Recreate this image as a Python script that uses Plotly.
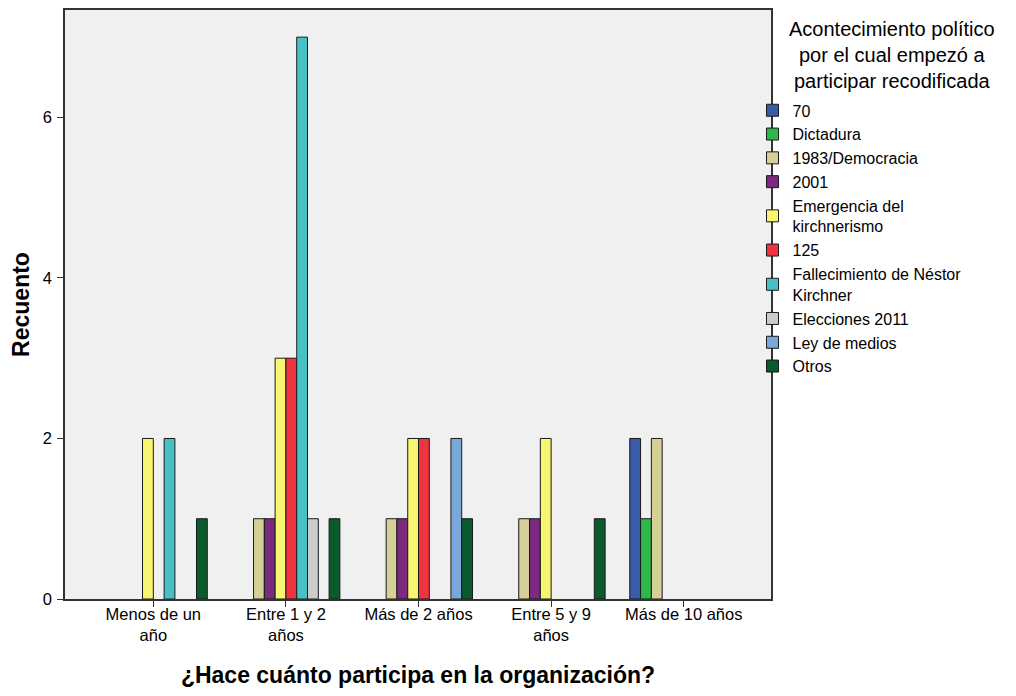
import plotly.graph_objects as go

categories = ["Menos de un<br>año", "Entre 1 y 2<br>años", "Más de 2 años", "Entre 5 y 9<br>años", "Más de 10 años"]
series_names = ["70", "Dictadura", "1983/Democracia", "2001", "Emergencia del<br>kirchnerismo", "125",
                "Fallecimiento de Néstor<br>Kirchner", "Elecciones 2011", "Ley de medios", "Otros"]
v_70 = [0, 0, 0, 0, 2]
v_dictadura = [0, 0, 0, 0, 1]
v_1983 = [0, 1, 1, 1, 2]
v_2001 = [0, 1, 1, 1, 0]
v_emergencia = [2, 3, 2, 2, 0]
v_125 = [0, 3, 2, 0, 0]
v_fallecimiento = [2, 7, 0, 0, 0]
v_elecciones = [0, 1, 0, 0, 0]
v_ley = [0, 0, 2, 0, 0]
v_otros = [1, 1, 1, 1, 0]
series_values = [v_70, v_dictadura, v_1983, v_2001, v_emergencia, v_125, v_fallecimiento, v_elecciones, v_ley, v_otros]
colors = ["#3a5ba8", "#2db84c", "#d5cf98", "#7b2a80", "#f8f570", "#ef3340", "#47c1c4", "#cccccc", "#7aa8d8", "#0b5a2e"]

OFF = 8  # page body margin
W, H = 1000, 680
# plot area edges in screen pixels of the reference
L, R, T, B = 65, 771.5, 9.5, 599.5
l_m = L - OFF
t_m = T - OFF
r_m = W - (R - OFF)
b_m = H - (B - OFF)

def xp(px):
    return (px - L) / (R - L)

def yp(py):
    return (B - py) / (B - T)

font_family = "Arial, Liberation Sans, sans-serif"

fig = go.Figure()
for name, vals, col in zip(series_names, series_values, colors):
    fig.add_trace(go.Bar(
        x=list(range(len(categories))),
        y=[v if v != 0 else None for v in vals],
        name=name,
        marker=dict(color=col, line=dict(color="#1a1a1a", width=1)),
    ))

fig.update_layout(
    width=W, height=H,
    margin=dict(l=l_m, r=r_m, t=t_m, b=b_m, pad=0, autoexpand=False),
    barmode="group",
    bargap=0.186,
    bargroupgap=0,
    plot_bgcolor="#f0f0f0",
    paper_bgcolor="white",
    font=dict(family=font_family, size=16, color="black"),
    showlegend=True,
    legend=dict(
        x=xp(753), y=yp(93), xanchor="left", yanchor="top",
        font=dict(size=16, family=font_family, color="black"),
        bgcolor="rgba(0,0,0,0)",
        tracegroupgap=0,
        itemwidth=30,
    ),
    annotations=[dict(
        text="Acontecimiento político<br>por el cual empezó a<br>participar recodificada",
        x=xp(893), y=yp(16), xref="paper", yref="paper",
        xanchor="center", yanchor="top", showarrow=False, align="center",
        font=dict(size=20, family=font_family, color="black"),
    )],
)

fig.update_xaxes(
    tickmode="array",
    tickvals=list(range(len(categories))),
    ticktext=categories,
    range=[-0.666, 4.658],
    automargin=False,
    showline=True, linecolor="#333333", linewidth=1.5, mirror=True,
    ticks="outside", ticklen=6, tickcolor="#333333",
    ticklabelstandoff=-7,
    showgrid=False, zeroline=False,
    tickfont=dict(size=16.5),
    title=dict(text="<b>¿Hace cuánto participa en la organización?</b>", font=dict(size=23), standoff=36),
)
fig.update_yaxes(
    range=[0, 7.338],
    tickvals=[0, 2, 4, 6],
    automargin=False,
    showline=True, linecolor="#333333", linewidth=1.5, mirror=True,
    ticks="outside", ticklen=6, tickcolor="#333333",
    ticklabelstandoff=2,
    showgrid=False, zeroline=False,
    tickfont=dict(size=16.5),
    title=dict(text="<b>Recuento</b>", font=dict(size=23), standoff=14),
)

fig.write_html("out.html")
